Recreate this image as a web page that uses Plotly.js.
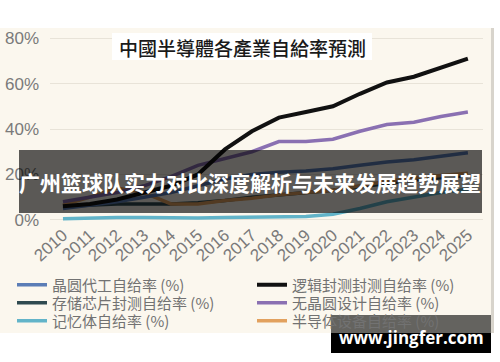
<!DOCTYPE html>
<html><head><meta charset="utf-8">
<script src="https://cdn.plot.ly/plotly-3.0.1.min.js"></script>
<style>html,body{margin:0;padding:0;background:#fff}#chart{width:500px;height:362px}</style>
</head><body><div id="chart"></div>
<script>
var years = [2010,2011,2012,2013,2014,2015,2016,2017,2018,2019,2020,2021,2022,2023,2024,2025];
var yearLabels = years.map(String);
var seriesNames = ['晶圆代工自给率 (%)','逻辑封测封测自给率 (%)','存储芯片封测自给率 (%)','无晶圆设计自给率 (%)','记忆体自给率 (%)','半导体设备自给率 (%)'];
var wafer    = [5,6.5,8,10,12,15,18,20,21,21.5,22.5,24,25.5,26.5,28,29.5];
var logic    = [6,7,9,12,15,20,31,39,45,47.5,50,55.5,60.5,63,67,71];
var memPack  = [6,6.5,7,7,7,7.5,8.5,10,11,12,13,14.5,16,17.5,18.5,19.5];
var fabless  = [8,10,12,15,19,24,27,30,34.5,34.5,35.5,39,42,43,45.5,47.5];
var memory   = [0.5,0.8,1,1,0.8,0.8,1,1.2,1.5,1.5,2.5,5,8,10,12,13.5];
var equip    = [6.5,10,14,12,7,7,8.5,9.5,11,12,13,15,17,18.5,19.5,20.5];
var yTicks = [0,20,40,60,80];
var yTickLabels = ['0%','20%','40%','60%','80%'];
var chartTitle = '中國半導體各產業自給率預測';
var bannerText = '广州篮球队实力对比深度解析与未来发展趋势展望';
var watermark = 'www.jingfer.com';

var values = [wafer, logic, memPack, fabless, memory, equip];
var colors = ['#5b7db6','#111111','#2f4a50','#8a70b2','#62b4c9','#e2a15e'];
var widths = [3.5,4,3.5,3.5,3.5,3.5];

// plot box in px
var L=50, R=17, T=37, B=141, W=500, H=362;
var PW = W-L-R, PH = H-T-B;
function px(x){return (x-L)/PW;}
function py(y){return (T+PH-y)/PH;}

var drawOrder = [4,2,5,0,3,1];
var traces = drawOrder.map(function(i){
  return {x: years, y: values[i], type:'scatter', mode:'lines', name: seriesNames[i],
    line:{color:colors[i], width:widths[i]}, legend: i===0?'legend':'legend'+(i+1), hoverinfo:'skip'};
});

var legendFont = {family:'Noto Sans CJK SC, sans-serif', size:15, color:'#727272'};
var legPos = [[12,285],[252,285],[12,303],[252,303],[12,321],[252,321]];
var layout = {
  width:W, height:H, margin:{l:L,r:R,t:T,b:B},
  paper_bgcolor:'#ffffff', plot_bgcolor:'rgba(0,0,0,0)',
  showlegend:true,
  xaxis:{range:[2009.52,2025.56], tickvals:years, ticktext:yearLabels, tickangle:-42,
    showgrid:false, zeroline:false, showline:false, ticks:'',
    tickfont:{family:'Liberation Sans, Arial, sans-serif', size:17, color:'#7a7a7a'}},
  yaxis:{range:[-0.5,80.5], tickvals:yTicks, ticktext:yTickLabels, showgrid:true,
    gridcolor:'#e8e3d8', gridwidth:1, zeroline:false, showline:false, ticks:'',
    ticklabelstandoff:10,
    tickfont:{family:'Liberation Sans, Arial, sans-serif', size:17, color:'#7a7a7a'}},
  shapes:[
    {type:'rect', xref:'paper', yref:'paper', x0:px(0), x1:px(491), y0:py(333), y1:py(28), fillcolor:'#fbf7ee', line:{width:0}, layer:'below'},
    {type:'rect', xref:'paper', yref:'paper', x0:px(491), x1:px(494), y0:py(333), y1:py(28), fillcolor:'#d8d4cc', line:{width:0}, layer:'below'},
    {type:'rect', xref:'paper', yref:'paper', x0:px(112), x1:px(372), y0:py(60), y1:py(33), fillcolor:'#ffffff', line:{width:0}, layer:'above'},
    {type:'rect', xref:'paper', yref:'paper', x0:px(19), x1:px(482), y0:py(213), y1:py(150), fillcolor:'rgba(0,0,0,0.64)', line:{width:0}, layer:'above'},
    {type:'rect', xref:'paper', yref:'paper', x0:px(331), x1:px(491), y0:py(333), y1:py(315), fillcolor:'rgba(0,0,0,0.6)', line:{width:0}, layer:'above'},
    {type:'rect', xref:'paper', yref:'paper', x0:px(331), x1:px(491), y0:py(353), y1:py(333), fillcolor:'#000000', line:{width:0}, layer:'above'}
  ],
  annotations:[
    {text:chartTitle, xref:'paper', yref:'paper', x:px(242), y:py(47), xanchor:'center', yanchor:'middle', showarrow:false,
      font:{family:'Noto Sans CJK TC, sans-serif', size:19, color:'#1a1a1a', weight:500}},
    {text:bannerText, xref:'paper', yref:'paper', x:px(250), y:py(182), xanchor:'center', yanchor:'middle', showarrow:false,
      font:{family:'Noto Sans CJK SC, sans-serif', size:21, color:'#ffffff', weight:700}},
    {text:watermark, xref:'paper', yref:'paper', x:px(411), y:py(337), xanchor:'center', yanchor:'middle', showarrow:false,
      font:{family:'Open Sans, sans-serif', size:17, color:'#ffffff', weight:700}}
  ]
};
for (var k=0;k<6;k++){
  var key = k===0?'legend':'legend'+(k+1);
  layout[key] = {x:px(legPos[k][0]), y:py(legPos[k][1]), xanchor:'left', yanchor:'middle',
    bgcolor:'rgba(0,0,0,0)', borderwidth:0, font:legendFont, itemwidth:30};
}
Plotly.newPlot('chart', traces, layout, {displayModeBar:false, staticPlot:true});
</script></body></html>
